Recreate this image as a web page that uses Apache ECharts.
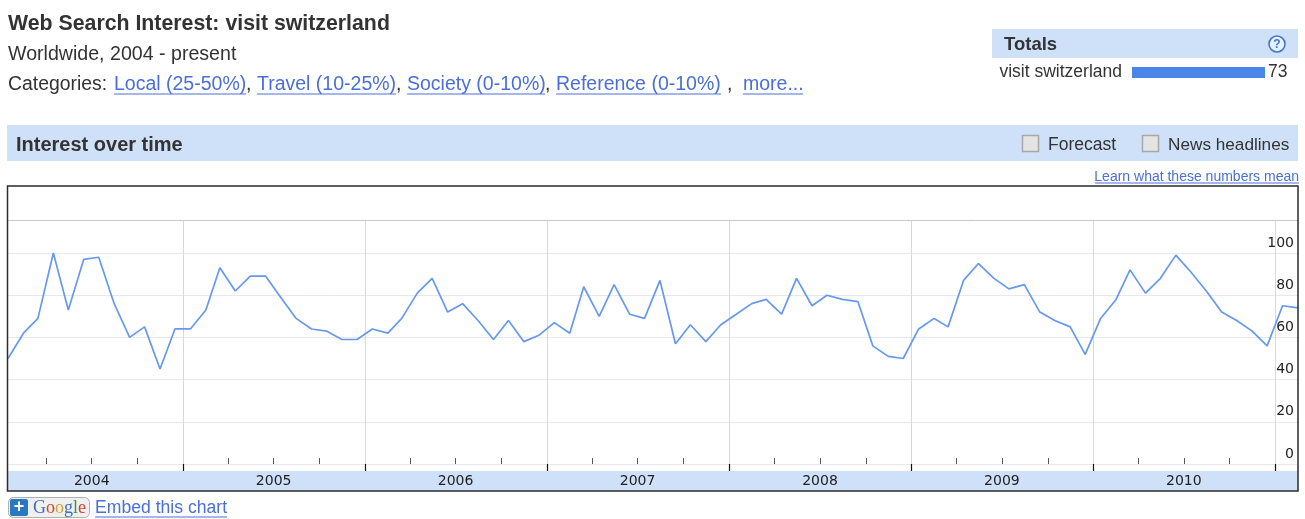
<!DOCTYPE html>
<html><head><meta charset="utf-8">
<style>html,body{margin:0;padding:0;background:#fff}#c{width:1305px;height:519px}</style>
<script src="https://cdn.jsdelivr.net/npm/echarts@6/dist/echarts.min.js"></script>
</head><body><div id="c"></div>
<script>
// Monthly search interest, Jan 2004 onward
const v2004 = [50,62,69,100,73,97,98,76,60,65,45,64];
const v2005 = [64,73,93,82,89,89,79,69,64,63,59,59];
const v2006 = [64,62,69,81,88,72,76,68,59,68,58,61];
const v2007 = [67,62,84,70,85,71,69,87,57,66,58,66];
const v2008 = [71,76,78,71,88,75,80,78,77,56,51,50];
const v2009 = [64,69,65,87,95,88,83,85,72,68,65,52];
const v2010 = [69,78,92,81,88,99,91,82,72,68,63,56];
const v2011 = [75,74];
const years = [2004,2005,2006,2007,2008,2009,2010];
const yTicks = [0,20,40,60,80,100];
const totalsCategory = ['visit switzerland'];
const totalsValue = [73];

const values = [].concat(v2004,v2005,v2006,v2007,v2008,v2009,v2010,v2011);
const seriesData = values.map((val,i)=>{
  const y = 2004+Math.floor(i/12), m = i%12;
  return [new Date(y,m,15).getTime(), val];
});
const xMin = new Date(2004,0,15).getTime();
const xMax = new Date(2011,1,15).getTime();
const quarters = [], januaries = [], yearMids = [];
for (const y of years.concat([2011])) {
  januaries.push(new Date(y,0,1).getTime());
  for (const m of [3,6,9]) if (y<2011) quarters.push(new Date(y,m,1).getTime());
}
januaries.shift();
for (const y of years) yearMids.push(new Date(y,6,1).getTime());

const BAND='#cfe1f8', INK='#333', LINK='#4a6fd8';
const FF='"Liberation Sans",Arial,sans-serif';
function rect(x,y,w,h,fill,extra){return Object.assign({type:'rect',shape:{x,y,width:w,height:h},style:{fill},z:-10,silent:true},extra||{});}
function text(x,y,t,size,color,weight,align){return {type:'text',x,y,z:5,silent:true,style:{text:t,fontSize:size,fontFamily:FF,fill:color,fontWeight:weight||'normal',align:align||'left',verticalAlign:'middle'}};}
function under(x1,x2,y,c){return {type:'line',z:5,silent:true,shape:{x1,y1:y,x2,y2:y},style:{stroke:c||LINK,lineWidth:1}};}

const g=[
  rect(992,29,306,29,BAND),
  rect(7,125,1291,36,BAND),
  rect(8,471,1290,20,BAND),
  {type:'rect',z:6,silent:true,shape:{x:7.5,y:186,width:1290.5,height:305},style:{fill:'none',stroke:'#2b2b2b',lineWidth:1.5}},
  text(8,24,'Web Search Interest: visit switzerland',21.3,INK,'bold'),
  text(8,55,'Worldwide, 2004 - present',19.6,INK),
  text(8,85,'Categories:',19.4,INK),
  text(114,85,'Local (25-50%)',19.5,LINK), under(114,246,94),
  text(246,85,',',19.5,INK),
  text(257,85,'Travel (10-25%)',19.5,LINK), under(257,396,94),
  text(396,85,',',19.5,INK),
  text(407,85,'Society (0-10%)',19.5,LINK), under(407,545,94),
  text(545,85,',',19.5,INK),
  text(556,85,'Reference (0-10%)',19.5,LINK), under(556,721,94),
  text(727,85,',',19.5,INK),
  text(743,85,'more...',19.5,LINK), under(743,803,94),
  text(16,145,'Interest over time',20,INK,'bold'),
  text(1004,45,'Totals',18.5,INK,'bold'),
  {type:'circle',z:5,silent:true,shape:{cx:1277,cy:44,r:8},style:{fill:'#e8f0fb',stroke:'#3f78c8',lineWidth:1.6}},
  text(1277,44.5,'?',12,'#3f78c8','bold','center'),
  {type:'rect',z:5,silent:true,shape:{x:1022.5,y:135.5,width:16,height:16},style:{fill:'#e4e4e4',stroke:'#a8a8a8',lineWidth:1.5}},
  text(1048,145,'Forecast',17.5,INK),
  {type:'rect',z:5,silent:true,shape:{x:1142.5,y:135.5,width:16,height:16},style:{fill:'#e4e4e4',stroke:'#a8a8a8',lineWidth:1.5}},
  text(1168,145,'News headlines',17.2,INK),
  text(1299,177,'Learn what these numbers mean',14,LINK,'normal','right'), under(1095,1299,183),
  {type:'rect',z:4,silent:true,shape:{x:8.5,y:497.5,width:81,height:20,r:5},style:{fill:'#f0f0f0',stroke:'#b0b0b0',lineWidth:1}},
  {type:'rect',z:5,silent:true,shape:{x:10,y:499,width:18,height:17,r:2},style:{fill:'#2a78c0'}},
  text(19,507.5,'+',18,'#fff','bold','center'),
  {type:'text',x:33,y:508,z:5,silent:true,style:{text:'{b|G}{r|o}{y|o}{b|g}{g|l}{r|e}',verticalAlign:'middle',rich:{
    b:{fill:'#3a6fc8',fontSize:18,fontFamily:'"Liberation Serif",serif'},
    r:{fill:'#d0452f',fontSize:18,fontFamily:'"Liberation Serif",serif'},
    y:{fill:'#d8a420',fontSize:18,fontFamily:'"Liberation Serif",serif'},
    g:{fill:'#3a9a48',fontSize:18,fontFamily:'"Liberation Serif",serif'}}}},
  text(95,508.5,'Embed this chart',17.6,LINK), under(95,227,517)
];

const chart=echarts.init(document.getElementById('c'),null,{renderer:'canvas'});
chart.setOption({
  animation:false,
  backgroundColor:'#fff',
  textStyle:{fontFamily:FF},
  graphic:{elements:g},
  grid:[
    {left:8,top:220.5,width:1290,height:250.5},
    {left:1132,top:64.5,width:133,height:16}
  ],
  xAxis:[
    {gridIndex:0,type:'value',position:'bottom',min:xMin,max:xMax,
      axisLine:{show:false},splitLine:{show:false},
      axisTick:{show:true,inside:true,length:6,customValues:quarters,lineStyle:{color:'#555',width:1}},
      axisLabel:{show:true,customValues:yearMids,margin:3,fontSize:14,color:'#222',fontFamily:'"DejaVu Sans",sans-serif',
        formatter:val=>String(new Date(val).getFullYear())}},
    {gridIndex:0,type:'value',position:'bottom',min:xMin,max:xMax,
      axisLine:{show:false},axisLabel:{show:false},
      axisTick:{show:true,inside:true,length:7,customValues:januaries,lineStyle:{color:'#111',width:1.2}},
      splitLine:{show:true,lineStyle:{color:'#d6dada',width:1}}},
    {gridIndex:0,type:'value',position:'top',min:xMin,max:xMax,
      axisLine:{show:true,lineStyle:{color:'#c8c8c8',width:1}},axisLabel:{show:false},axisTick:{show:false},splitLine:{show:false}},
    {gridIndex:1,type:'value',min:0,max:totalsValue[0],show:false}
  ],
  yAxis:[
    {gridIndex:0,type:'value',position:'right',min:-3.3,max:115.4,
      axisLine:{show:false},axisTick:{show:false,customValues:yTicks},
      splitLine:{show:true,lineStyle:{color:'#e8e8f4',width:1}},
      axisLabel:{show:true,inside:true,customValues:yTicks,margin:4,fontSize:14,color:'#222',
        fontFamily:'"DejaVu Sans",sans-serif',verticalAlign:'bottom',padding:[0,0,3,0]}},
    {gridIndex:1,type:'category',data:totalsCategory,
      axisLine:{show:false},axisTick:{show:false},
      axisLabel:{margin:10,fontSize:17.5,color:INK,fontFamily:FF}}
  ],
  series:[
    {type:'line',xAxisIndex:0,yAxisIndex:0,data:seriesData,showSymbol:false,symbol:'none',smooth:false,
      lineStyle:{color:'#6699ee',width:1.7},z:3,clip:true},
    {type:'bar',xAxisIndex:3,yAxisIndex:1,data:totalsValue,barWidth:11,
      itemStyle:{color:'#4a86e8'},
      label:{show:true,position:'right',distance:3,fontSize:17.5,color:INK,fontFamily:FF}}
  ]
});
</script></body></html>
